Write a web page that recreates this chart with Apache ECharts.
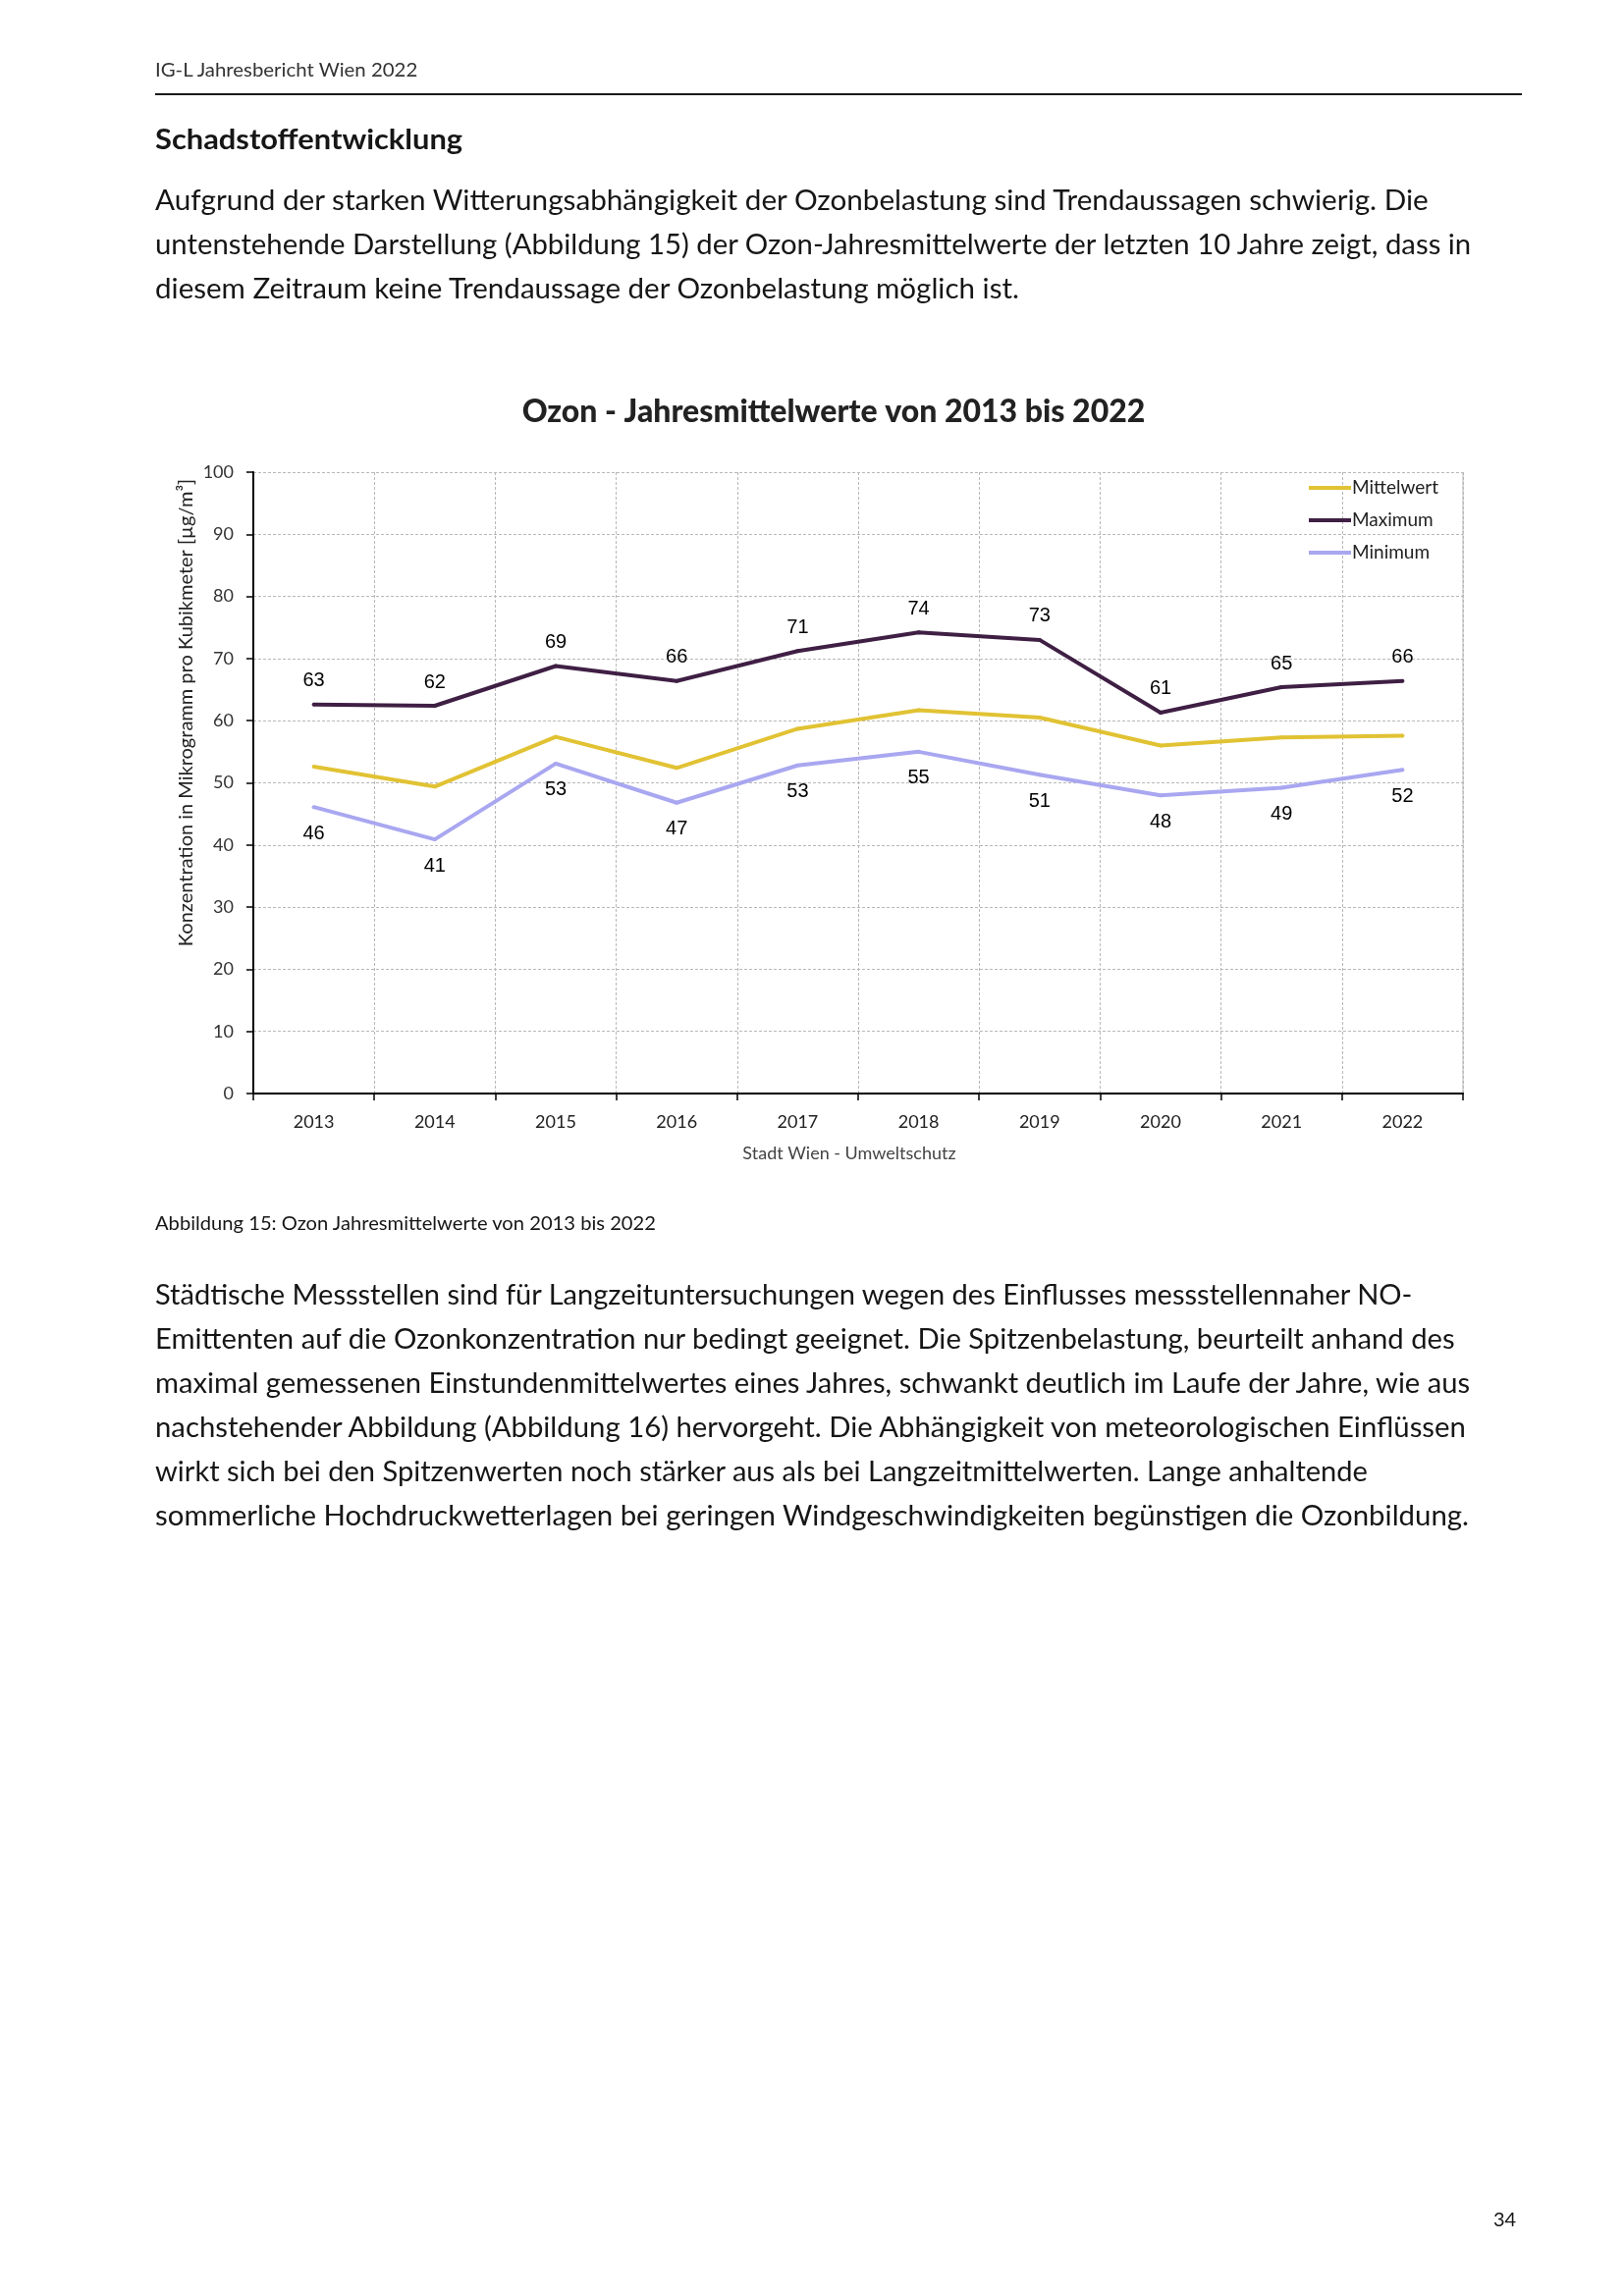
<!DOCTYPE html>
<html>
<head>
<meta charset="utf-8">
<script src="https://cdn.jsdelivr.net/npm/echarts@6/dist/echarts.min.js"></script>
<style>
  html, body { margin: 0; padding: 0; background: #fff; }
  body { width: 1654px; height: 2339px; position: relative; overflow: hidden; font-family: Lato, "Noto Sans", sans-serif; color: #161616; }
  #chart { position: absolute; left: 0; top: 0; width: 1654px; height: 2339px; z-index: 0; }
  .ln { position: absolute; left: 158px; white-space: nowrap; transform-origin: 0 50%; z-index: 1; line-height: 1; }
  .rule { position: absolute; left: 158px; top: 95px; width: 1392px; height: 2px; background: #1a1a1a; z-index: 1; }
</style>
</head>
<body>
<div id="chart"></div>
<div class="rule"></div>
<div class="ln fit" data-y="70" data-w="267" style="font-size:20px;color:#333;">IG-L Jahresbericht Wien 2022</div>
<div class="ln fit" data-y="141" data-w="313" style="font-size:28px;font-weight:bold;">Schadstoffentwicklung</div>

<div class="ln fit" data-y="202" data-w="1297" style="font-size:29px;">Aufgrund der starken Witterungsabhängigkeit der Ozonbelastung sind Trendaussagen schwierig. Die</div>
<div class="ln fit" data-y="247" data-w="1340" style="font-size:29px;">untenstehende Darstellung (Abbildung 15) der Ozon-Jahresmittelwerte der letzten 10 Jahre zeigt, dass in</div>
<div class="ln fit" data-y="292" data-w="880" style="font-size:29px;">diesem Zeitraum keine Trendaussage der Ozonbelastung möglich ist.</div>

<div class="ln fit" data-y="1245" data-w="510" style="font-size:20px;">Abbildung 15: Ozon Jahresmittelwerte von 2013 bis 2022</div>

<div class="ln fit" data-y="1317" data-w="1280" style="font-size:29px;">Städtische Messstellen sind für Langzeituntersuchungen wegen des Einflusses messstellennaher NO-</div>
<div class="ln fit" data-y="1362" data-w="1324" style="font-size:29px;">Emittenten auf die Ozonkonzentration nur bedingt geeignet. Die Spitzenbelastung, beurteilt anhand des</div>
<div class="ln fit" data-y="1407" data-w="1339" style="font-size:29px;">maximal gemessenen Einstundenmittelwertes eines Jahres, schwankt deutlich im Laufe der Jahre, wie aus</div>
<div class="ln fit" data-y="1452" data-w="1335" style="font-size:29px;">nachstehender Abbildung (Abbildung 16) hervorgeht. Die Abhängigkeit von meteorologischen Einflüssen</div>
<div class="ln fit" data-y="1497" data-w="1235" style="font-size:29px;">wirkt sich bei den Spitzenwerten noch stärker aus als bei Langzeitmittelwerten. Lange anhaltende</div>
<div class="ln fit" data-y="1542" data-w="1338" style="font-size:29px;">sommerliche Hochdruckwetterlagen bei geringen Windgeschwindigkeiten begünstigen die Ozonbildung.</div>

<div class="ln" data-y="2260" style="left:1521px;font-size:20px;">34</div>

<script>
// ---- data ----
const years = ['2013', '2014', '2015', '2016', '2017', '2018', '2019', '2020', '2021', '2022'];
const mittelwert = [52.6, 49.4, 57.4, 52.4, 58.7, 61.7, 60.5, 56.0, 57.3, 57.6];
const maximum = [62.6, 62.4, 68.8, 66.4, 71.2, 74.2, 73.0, 61.3, 65.4, 66.4];
const minimum = [46.1, 40.9, 53.1, 46.8, 52.8, 55.0, 51.3, 48.0, 49.2, 52.1];
const yMin = 0, yMax = 100, yStep = 10;
const seriesNames = ['Mittelwert', 'Maximum', 'Minimum'];
const chartTitle = 'Ozon - Jahresmittelwerte von 2013 bis 2022';
const yAxisTitle = 'Konzentration in Mikrogramm pro Kubikmeter [µg/m³]';
const sourceText = 'Stadt Wien - Umweltschutz';

// ---- layout text lines ----
function placeLines() {
  document.querySelectorAll('.ln').forEach(el => {
    const y = parseFloat(el.dataset.y);
    const h = el.offsetHeight;
    el.style.top = (y - h / 2) + 'px';
    if (el.classList.contains('fit')) {
      const w = parseFloat(el.dataset.w);
      const nat = el.scrollWidth;
      el.style.transform = 'scaleX(' + (w / nat) + ')';
    }
  });
}

const chart = echarts.init(document.getElementById('chart'), null, { renderer: 'canvas' });
const font = 'Lato';
const labelFont = { fontFamily: 'Liberation Sans', fontSize: 20, color: '#000' };
const dash = { color: '#b8b8b8', width: 1, type: [3, 2] };
const colMittel = '#E1C233', colMax = '#3F1F44', colMin = '#A9A7F0';

chart.setOption({
  animation: false,
  backgroundColor: 'transparent',
  title: {
    text: chartTitle,
    left: 844, top: 399, textAlign: 'center',
    textStyle: { fontFamily: font, fontSize: 32, fontWeight: 900, color: '#222' }
  },
  legend: {
    data: seriesNames,
    orient: 'vertical',
    left: 1333, top: 487, padding: 0,
    itemWidth: 43, itemHeight: 4, itemGap: 13,
    icon: 'rect',
    textStyle: { fontFamily: font, fontSize: 19, color: '#222', lineHeight: 20, padding: [0, 0, 0, -4] }
  },
  grid: { left: 258, right: 164, top: 481, bottom: 1225, containLabel: false },
  xAxis: {
    type: 'category',
    data: years,
    boundaryGap: true,
    axisLine: { lineStyle: { color: '#000', width: 2 } },
    axisTick: { show: true, length: 7, lineStyle: { color: '#000', width: 1.5 } },
    axisLabel: { fontFamily: font, fontSize: 18, color: '#222', margin: 20 },
    splitLine: { show: true, lineStyle: dash }
  },
  yAxis: {
    type: 'value',
    min: yMin, max: yMax, interval: yStep,
    axisLine: { show: true, lineStyle: { color: '#000', width: 2 } },
    axisTick: { show: true, length: 7, lineStyle: { color: '#000', width: 1.5 } },
    axisLabel: { fontFamily: font, fontSize: 18, color: '#333', margin: 20 },
    splitLine: { show: true, lineStyle: dash }
  },
  graphic: [
    {
      type: 'text', x: 190, y: 726, rotation: Math.PI / 2,
      style: { text: yAxisTitle, fontFamily: font, fontSize: 20, fill: '#222', textAlign: 'center', textVerticalAlign: 'middle' }
    },
    {
      type: 'text', x: 865, y: 1175,
      style: { text: sourceText, fontFamily: font, fontSize: 18, fill: '#444', textAlign: 'center', textVerticalAlign: 'middle' }
    },
    {
      type: 'rect', shape: { x: 1490, y: 481, width: 0, height: 633 }, style: { stroke: '#b8b8b8', lineDash: [3, 2], lineWidth: 1, fill: null }, silent: true
    }
  ],
  series: [
    {
      name: seriesNames[0], type: 'line', data: mittelwert,
      symbol: 'circle', symbolSize: 4, showSymbol: true,
      color: colMittel, itemStyle: { color: colMittel },
      lineStyle: { width: 4, color: colMittel },
      z: 3
    },
    {
      name: seriesNames[1], type: 'line', data: maximum,
      symbol: 'circle', symbolSize: 4, showSymbol: true,
      color: colMax, itemStyle: { color: colMax },
      lineStyle: { width: 4, color: colMax },
      label: { show: true, position: 'top', distance: 12, formatter: p => Math.round(p.value), ...labelFont },
      z: 4
    },
    {
      name: seriesNames[2], type: 'line', data: minimum,
      symbol: 'circle', symbolSize: 4, showSymbol: true,
      color: colMin, itemStyle: { color: colMin },
      lineStyle: { width: 4, color: colMin },
      label: { show: true, position: 'bottom', distance: 15, formatter: p => Math.round(p.value), ...labelFont },
      z: 2
    }
  ]
});

placeLines();
if (document.fonts && document.fonts.ready) {
  document.fonts.ready.then(() => { placeLines(); chart.resize(); });
}
</script>
</body>
</html>
